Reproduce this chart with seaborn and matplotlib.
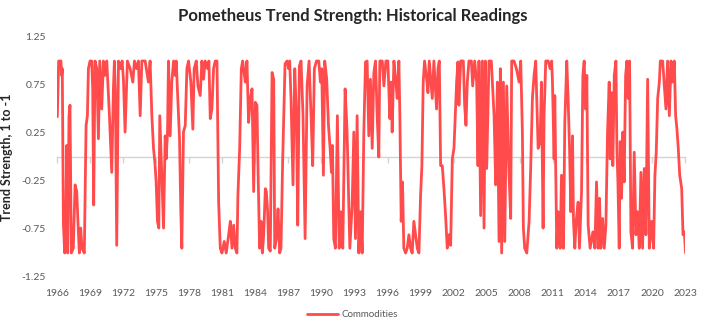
import numpy as np
import pandas as pd
import matplotlib
matplotlib.use("Agg")
import matplotlib.pyplot as plt
import seaborn as sns

# ---- data (decimal year, trend strength) ----
years_a = [1966.03, 1966.15, 1966.36, 1966.42, 1966.48, 1966.58, 1966.70, 1966.79, 1966.88, 1966.97,
           1967.09, 1967.18, 1967.30, 1967.48, 1967.64, 1967.79, 1967.94, 1968.03, 1968.15, 1968.27,
           1968.48, 1968.64, 1968.76, 1968.85, 1969.00, 1969.15, 1969.24, 1969.33, 1969.45, 1969.61,
           1969.76, 1969.88, 1970.06, 1970.21, 1970.36, 1970.52, 1970.76, 1970.97, 1971.12, 1971.21,
           1971.30, 1971.42, 1971.58, 1971.79, 1971.91, 1972.03, 1972.18, 1972.39, 1972.64, 1972.88,
           1973.03, 1973.24, 1973.39, 1973.55, 1973.70, 1974.00, 1974.30, 1974.45, 1974.61, 1974.76,
           1974.88, 1975.00, 1975.12, 1975.24, 1975.33]
vals_a = [0.42, 1.0, 1.0, 0.85, 0.92, -0.69, -1.0, -0.74, 0.12, -1.0,
          0.43, 0.54, -1.0, -0.95, -0.29, -0.36, -0.78, -1.0, -0.74, -0.95,
          -1.0, 0.33, 0.43, 0.92, 1.0, 1.0, 0.71, -0.5, 1.0, 0.92,
          0.19, 1.0, 0.50, 1.0, 0.85, 1.0, 0.43, -0.16, 0.71, 1.0,
          0.67, -0.92, 1.0, 0.92, 1.0, 0.81, 0.26, 1.0, 0.92, 0.78,
          1.0, 0.92, 1.0, 0.43, 1.0, 1.0, 0.78, 1.0, 0.43, 0.09,
          -0.05, -0.26, -0.67, -0.74, 0.43]

years_b = [1975.67, 1975.82, 1975.91, 1976.03, 1976.12, 1976.27, 1976.42, 1976.58, 1976.73, 1976.82,
           1977.03, 1977.12, 1977.24, 1977.33, 1977.48, 1977.64, 1977.79, 1977.94, 1978.15, 1978.33,
           1978.45, 1978.64, 1978.79, 1979.00, 1979.15, 1979.30, 1979.45, 1979.67, 1979.79, 1979.91,
           1980.06, 1980.21, 1980.36, 1980.52, 1980.67, 1980.82, 1980.97, 1981.18, 1981.36, 1981.58,
           1981.73, 1981.88, 1982.03, 1982.18, 1982.33, 1982.42, 1982.58, 1982.73, 1982.85, 1983.09,
           1983.24, 1983.39, 1983.55, 1983.70, 1983.85, 1984.00, 1984.15, 1984.24, 1984.39]
vals_b = [-0.74, 0.22, -0.02, 0.26, 1.0, 0.22, 0.78, 1.0, 0.85, 1.0,
          0.43, 0.19, -0.57, -0.95, 0.26, 0.33, 0.92, 1.0, 0.78, 0.29,
          0.92, 1.0, 0.74, 0.64, 1.0, 0.81, 1.0, 0.92, 1.0, 0.40,
          0.50, 0.92, 1.0, 1.0, -0.47, -0.95, -1.0, -0.88, -1.0, -0.81,
          -0.67, -0.95, -0.71, -0.95, -1.0, -0.40, 0.09, 0.92, 1.0, 0.78,
          1.0, 0.36, 0.61, 0.71, -0.36, 0.57, 0.54, -0.09, -0.95]

years_c = [1984.52, 1984.64, 1984.76, 1984.91, 1985.00, 1985.12, 1985.21, 1985.36, 1985.52, 1985.67,
           1985.76, 1985.91, 1986.06, 1986.21, 1986.33, 1986.48, 1986.58, 1986.70, 1986.88, 1987.03,
           1987.12, 1987.24, 1987.42, 1987.58, 1987.73, 1987.85, 1988.00, 1988.15, 1988.33, 1988.52,
           1988.70, 1988.88, 1989.06, 1989.21, 1989.36, 1989.55, 1989.76, 1989.91, 1990.03, 1990.18,
           1990.30, 1990.48, 1990.64, 1990.79, 1990.91, 1991.00, 1991.12, 1991.27, 1991.45, 1991.61,
           1991.76, 1991.94, 1992.15, 1992.33, 1992.58]
vals_c = [-0.67, -1.0, -0.81, -0.33, -0.36, -0.57, -0.95, -0.98, 0.88, 0.81,
          -0.95, -0.85, -0.54, -1.0, -0.95, -0.05, 0.43, 0.97, 1.0, 0.92,
          1.0, 0.61, -0.29, 0.92, 0.43, -0.71, 0.95, 1.0, 0.43, -0.85,
          0.74, 1.0, 0.43, -0.09, 0.92, 1.0, 1.0, 0.78, 0.92, -0.19,
          1.0, 0.81, 0.33, 0.09, -0.16, 0.12, -0.85, -0.95, 0.43, -0.95,
          -0.57, -0.95, 0.71, 0.26, -0.95]

years_d = [1992.79, 1992.94, 1993.09, 1993.24, 1993.39, 1993.55, 1993.70, 1993.85, 1994.00, 1994.15,
           1994.30, 1994.45, 1994.61, 1994.76, 1994.91, 1995.06, 1995.21, 1995.30, 1995.52, 1995.67,
           1995.85, 1996.03, 1996.21, 1996.33, 1996.42, 1996.58, 1996.76, 1996.88, 1997.03, 1997.12,
           1997.24, 1997.36, 1997.48, 1997.64, 1997.79, 1997.94, 1998.09, 1998.24, 1998.39, 1998.55,
           1998.70, 1998.85, 1999.00, 1999.12, 1999.24, 1999.36, 1999.55, 1999.67, 1999.79, 2000.06,
           2000.21, 2000.45, 2000.58, 2000.70, 2000.82, 2000.97, 2001.12, 2001.27, 2001.42, 2001.58,
           2001.73, 2001.88, 2002.03, 2002.27, 2002.39]
vals_d = [-0.50, 0.26, -0.85, 0.43, -1.0, -0.57, -1.0, 0.26, 0.99, 1.0,
          0.22, 0.81, 0.09, 0.88, 1.0, 0.43, 0.0, 1.0, 1.0, 0.74,
          1.0, 1.0, 0.40, 0.78, 0.26, 1.0, 0.78, 0.61, 1.0, 0.43,
          -0.67, -0.26, -0.95, -1.0, -0.95, -0.81, -0.95, -1.0, -0.67, -0.81,
          -0.95, -1.0, -0.40, -0.09, 0.78, 1.0, 0.81, 0.67, 1.0, 0.61,
          1.0, 0.50, 0.92, 1.0, -0.09, -0.09, -0.33, -0.61, -0.95, -0.81,
          -0.92, -0.02, 0.09, 0.78, 0.99]

years_e = [2002.48, 2002.64, 2002.88, 2003.00, 2003.12, 2003.24, 2003.39, 2003.61, 2003.73, 2003.91,
           2004.09, 2004.21, 2004.30, 2004.45, 2004.61, 2004.76, 2004.88, 2005.00, 2005.21, 2005.42,
           2005.55, 2005.67, 2005.82, 2005.97, 2006.12, 2006.24, 2006.36, 2006.52, 2006.64, 2006.82,
           2007.03, 2007.18, 2007.27, 2007.48, 2007.70, 2007.94, 2008.09, 2008.24, 2008.33, 2008.45,
           2008.64, 2008.85, 2009.00, 2009.15, 2009.30, 2009.45, 2009.67, 2009.85, 2009.97, 2010.12,
           2010.21, 2010.36, 2010.58, 2010.76, 2010.90]
vals_e = [0.54, 1.0, 1.0, 0.54, 0.33, 0.78, 1.0, 1.0, 0.74, 1.0,
          0.78, -0.09, 1.0, -0.61, 1.0, -0.74, 1.0, -0.12, 1.0, 1.0,
          0.71, 0.43, -0.29, 0.78, -0.88, 0.92, -1.0, 0.78, -0.88, 0.74,
          -0.19, -0.64, 1.0, 1.0, 0.92, 0.78, 1.0, 0.26, -0.74, -0.95,
          -1.0, -0.67, -0.09, 0.61, 0.85, 1.0, 0.09, 0.16, 0.78, -0.74,
          0.43, 1.0, 1.0, 0.92, 1.0]

years_f = [2010.97, 2011.12, 2011.18, 2011.27, 2011.36, 2011.48, 2011.67, 2011.79, 2011.97, 2012.09,
           2012.27, 2012.39, 2012.52, 2012.64, 2012.79, 2012.88, 2013.00, 2013.12, 2013.30, 2013.42,
           2013.61, 2013.73, 2013.85, 2013.97, 2014.09, 2014.21, 2014.39, 2014.64, 2014.82, 2014.97,
           2015.12, 2015.24, 2015.36, 2015.52, 2015.67, 2015.82, 2015.97, 2016.12, 2016.21, 2016.33,
           2016.45, 2016.58, 2016.73, 2016.82, 2016.91, 2017.03, 2017.12, 2017.24, 2017.36, 2017.48,
           2017.61, 2017.73, 2017.85, 2017.97, 2018.09, 2018.24, 2018.39, 2018.55, 2018.70, 2018.85,
           2019.00, 2019.15, 2019.30, 2019.45, 2019.61, 2019.76, 2019.97, 2020.15, 2020.27, 2020.39,
           2020.52, 2020.67, 2020.76, 2020.97, 2021.27, 2021.42, 2021.58, 2021.73, 2021.88, 2022.03,
           2022.15, 2022.27, 2022.39, 2022.52, 2022.70, 2022.82, 2022.94, 2023.05]
vals_f = [0.78, -0.02, 0.64, -0.19, -0.95, -0.57, -0.95, -0.19, -0.95, 0.36,
          1.0, 0.61, 0.09, -0.57, 0.22, -0.67, -0.95, -0.67, -0.47, -0.95,
          -0.36, 0.85, 1.0, 0.50, 0.85, -0.71, -0.95, -0.78, -0.95, -0.26,
          -0.95, -0.43, -0.95, -0.64, -0.95, -0.71, 0.26, 0.78, -0.02, 0.67,
          -0.09, 0.85, 1.0, 0.09, -0.26, -0.95, 0.16, -0.43, 0.26, -0.26,
          0.85, 1.0, 0.61, 1.0, -0.78, -0.95, 0.05, -0.81, -0.57, -0.95,
          -0.16, -0.95, -0.12, -0.81, 0.81, -0.95, -0.67, -0.95, -0.19, 0.05,
          0.61, 0.78, 1.0, 1.0, 0.50, 1.0, 0.43, 1.0, 0.78, 1.0,
          0.43, 0.29, 0.09, -0.19, -0.33, -0.81, -0.78, -1.0]

series_name = "Commodities"
tick_years = list(range(1966, 2024, 3))
y_ticks = [1.25, 0.75, 0.25, -0.25, -0.75, -1.25]

df = pd.DataFrame({
    "year": years_a + years_b + years_c + years_d + years_e + years_f,
    "value": vals_a + vals_b + vals_c + vals_d + vals_e + vals_f,
})
df["series"] = series_name

# ---- styling ----
sns.set_theme(style="white")
plt.rcParams["font.family"] = ["Lato", "DejaVu Sans"]

fig = plt.figure(figsize=(7.05, 3.33), dpi=100)
ax = fig.add_axes([57 / 705, 56 / 333, 628 / 705, 240 / 333])

red = "#FF4B4B"
gray_axis = "#d4d4d4"

# zero axis line with tick marks (drawn underneath the series)
sec = ax.secondary_xaxis(0.5)
sec.set_alignment("bottom")
sec.set_xticks(tick_years)
sec.set_xticklabels([])
for sp in sec.spines.values():
    sp.set_color(gray_axis)
    sp.set_linewidth(1.0)
sec.spines["top"].set_visible(False)
sec.tick_params(axis="x", which="both", bottom=True, top=False, length=4,
                width=1.0, color=gray_axis, direction="out")
sec.set_zorder(0.5)

sns.lineplot(data=df, x="year", y="value", hue="series", palette=[red],
             ax=ax, linewidth=2.0, sort=False, legend=False, zorder=3)
ax.set_zorder(1)
ax.patch.set_visible(False)

ax.set_xlim(1966, 2023)
ax.set_ylim(-1.25, 1.25)
for s in ax.spines.values():
    s.set_visible(False)

ax.set_yticks(y_ticks)
ax.set_yticklabels([f"{t:.2f}" for t in y_ticks])
ax.set_xticks(tick_years)
ax.set_xticklabels([str(t) for t in tick_years])
ax.tick_params(axis="both", length=0, labelsize=7.5, labelcolor="#595959")
ax.tick_params(axis="y", pad=8)
ax.tick_params(axis="x", pad=9)

ax.set_xlabel("")
ax.set_ylabel("Trend Strength, 1 to -1", fontsize=9, fontweight="bold", labelpad=6)

fig.suptitle("Pometheus Trend Strength: Historical Readings", fontsize=12,
             fontweight="bold", y=0.975)

handle = plt.Line2D([], [], color=red, linewidth=2.0)
fig.legend([handle], [series_name], loc="center", bbox_to_anchor=(0.5, 0.055),
           frameon=False, fontsize=7, handlelength=3.2, handletextpad=0.3,
           labelcolor="#595959")

fig.savefig("out.png", dpi=100, facecolor="white")
